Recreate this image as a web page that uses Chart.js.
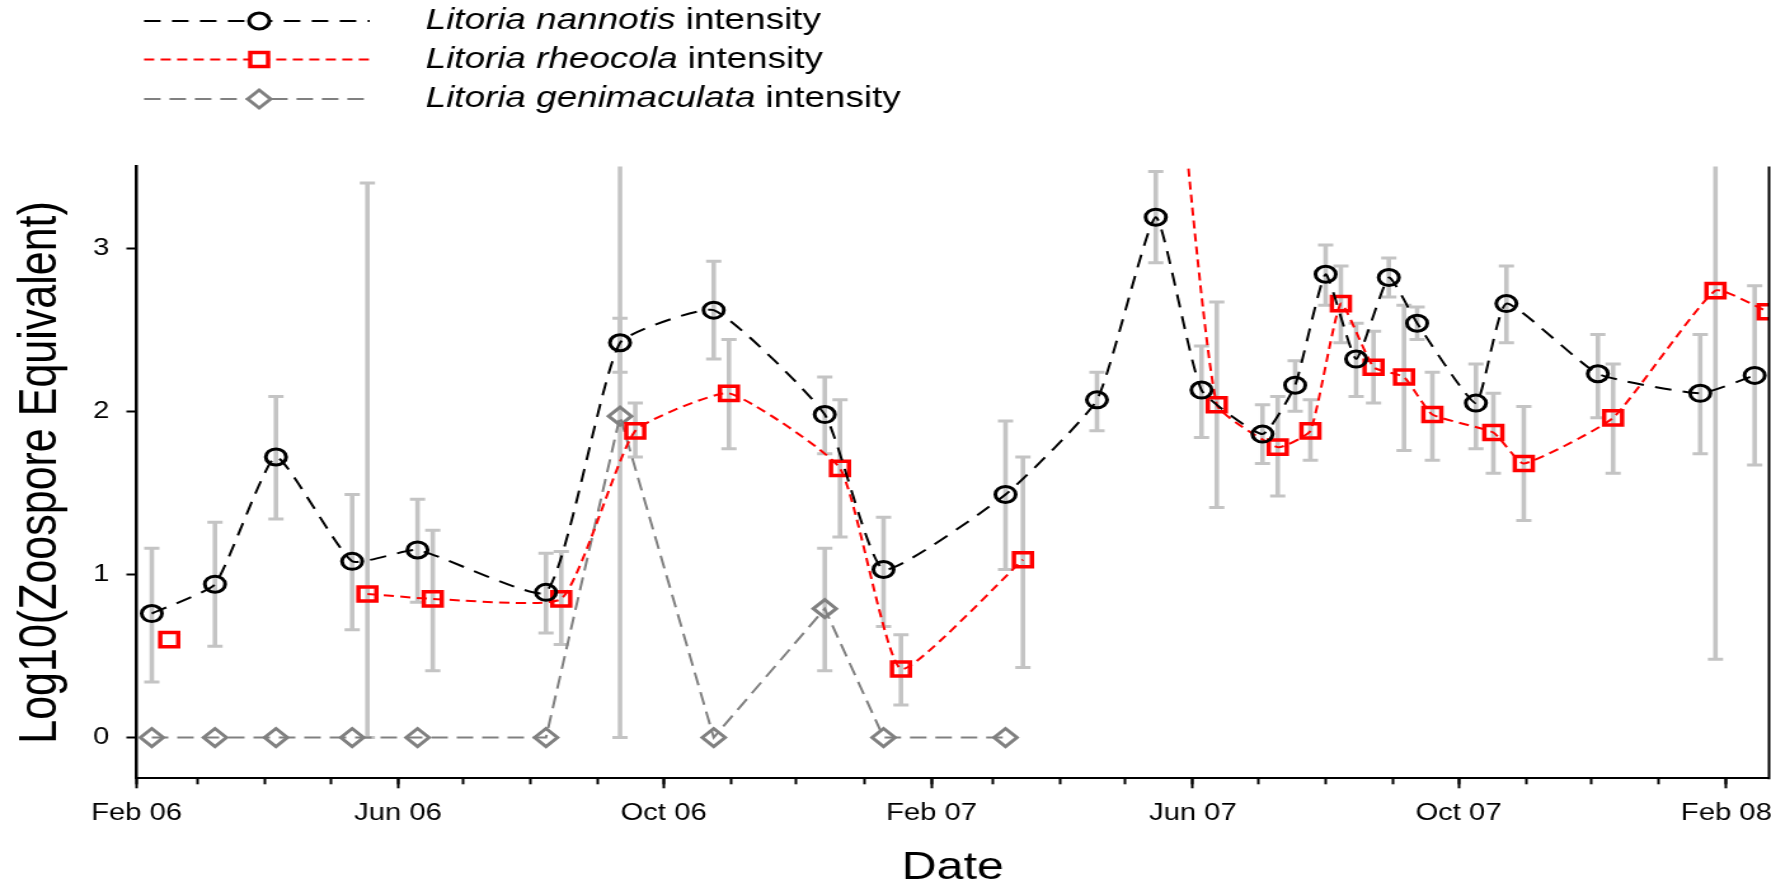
<!DOCTYPE html>
<html>
<head>
<meta charset="utf-8">
<title>Chytrid infection intensity in three Litoria species</title>
<script src="https://cdn.jsdelivr.net/npm/chart.js@4.4.1/dist/chart.umd.min.js"></script>
<style>
  html, body { margin: 0; padding: 0; background: #fff; overflow: hidden; }
  /* The figure is laid out on a narrower canvas and widened horizontally. */
  #wrap { position: absolute; left: 0; top: 0; width: 1395px; height: 888px;
          transform: scaleX(1.2695); transform-origin: 0 0; }
  canvas { display: block; }
</style>
</head>
<body>
<div id="wrap"><canvas id="chart" width="1395" height="888" style="width:1395px;height:888px"></canvas></div>
<script>
// ---- Sampling dates and log10 zoospore equivalents (mean, lower and upper error limits) ----
const nannotisDates = ['2006-02-08','2006-03-09','2006-04-06','2006-05-11','2006-06-10','2006-08-08',
  '2006-09-11','2006-10-24','2006-12-14','2007-01-10','2007-03-07','2007-04-18','2007-05-15',
  '2007-06-05','2007-07-03','2007-07-18','2007-08-01','2007-08-15','2007-08-30','2007-09-12',
  '2007-10-09','2007-10-23','2007-12-04','2008-01-20','2008-02-14'];
const nannotisValues = [0.76, 0.94, 1.72, 1.08, 1.15, 0.89, 2.42, 2.62, 1.98, 1.03, 1.49, 2.07, 3.19,
  2.13, 1.86, 2.16, 2.84, 2.32, 2.82, 2.54, 2.05, 2.66, 2.23, 2.11, 2.22];
const nannotisLow = [0.34, 0.56, 1.34, 0.66, 0.83, 0.64, 2.24, 2.32, 1.74, 0.68, 1.03, 1.88, 2.91,
  1.84, 1.68, 2.00, 2.65, 2.09, 2.70, 2.44, 1.77, 2.42, 1.96, 1.74, 1.67];
const nannotisHigh = [1.16, 1.32, 2.09, 1.49, 1.46, 1.13, 2.57, 2.92, 2.21, 1.35, 1.94, 2.24, 3.47,
  2.40, 2.04, 2.31, 3.02, 2.54, 2.94, 2.64, 2.29, 2.89, 2.47, 2.47, 2.77];

// null values mark surveys without a result, which break the connecting line
const rheocolaDates = ['2006-02-16','2006-03-16','2006-05-18','2006-06-17','2006-08-15','2006-09-18',
  '2006-10-31','2006-12-21','2007-01-18','2007-03-15','2007-04-25','2007-05-22','2007-06-12',
  '2007-07-10','2007-07-25','2007-08-08','2007-08-23','2007-09-06','2007-09-19','2007-10-17',
  '2007-10-31','2007-12-11','2008-01-27','2008-02-20'];
const rheocolaValues = [0.60, null, 0.88, 0.85, 0.85, 1.88, 2.11, 1.65, 0.42, 1.09, null, 4.60, 2.04,
  1.78, 1.88, 2.66, 2.27, 2.21, 1.98, 1.87, 1.68, 1.96, 2.74, 2.61];
const rheocolaLow = [null, null, 0.00, 0.41, 0.57, 1.72, 1.77, 1.23, 0.20, 0.43, null, null, 1.41,
  1.48, 1.70, 2.42, 2.05, 1.76, 1.70, 1.62, 1.33, 1.62, 0.48, null];
const rheocolaHigh = [null, null, 3.40, 1.27, 1.14, 2.05, 2.44, 2.07, 0.63, 1.72, null, null, 2.67,
  2.09, 2.07, 2.89, 2.49, 2.65, 2.24, 2.11, 2.03, 2.29, 4.99, null];

const genimaculataDates = ['2006-02-08','2006-03-09','2006-04-06','2006-05-11','2006-06-10','2006-08-08',
  '2006-09-11','2006-10-24','2006-12-14','2007-01-10','2007-03-07'];
const genimaculataValues = [0, 0, 0, 0, 0, 0, 1.97, 0, 0.79, 0, 0];
const genimaculataLow = [null, null, null, null, null, null, 0.00, null, 0.41, null, null];
const genimaculataHigh = [null, null, null, null, null, null, 3.93, null, 1.16, null, null];

// ---- Axes ----
const axisStart = '2006-02-01';
const axisEnd = '2008-02-21';
const majorTickDates = ['2006-02-01','2006-06-01','2006-10-01','2007-02-01','2007-06-01','2007-10-01','2008-02-01'];
const majorTickLabels = ['Feb 06','Jun 06','Oct 06','Feb 07','Jun 07','Oct 07','Feb 08'];
const yTicks = [0, 1, 2, 3];
const yMin = -0.25, yMax = 3.5;

const legendSpecies = ['Litoria nannotis', 'Litoria rheocola', 'Litoria genimaculata'];
const legendSuffix = ' intensity';

// ---- Helpers ----
const DAY_MS = 86400000;
const ORIGIN = Date.UTC(2006, 1, 1);
function toDay(s) {
  const [y, m, d] = s.split('-').map(Number);
  return (Date.UTC(y, m - 1, d) - ORIGIN) / DAY_MS;
}
function monthStarts(from, to) {
  const out = [];
  const a = new Date(toDay(from) * DAY_MS + ORIGIN);
  let y = a.getUTCFullYear(), m = a.getUTCMonth();
  const end = toDay(to);
  while (true) {
    const d = (Date.UTC(y, m, 1) - ORIGIN) / DAY_MS;
    if (d > end) break;
    out.push(d);
    m++; if (m > 11) { m = 0; y++; }
  }
  return out;
}
function series(dates, values, low, high) {
  return dates.map((d, i) => ({ x: toDay(d), y: values[i], lo: low[i], hi: high[i] }));
}

const FONT = '"Liberation Sans", Arial, Helvetica, sans-serif';
const majorDays = majorTickDates.map(toDay);
const minorDays = monthStarts(axisStart, axisEnd);

// Plot frame in layout pixels (before the horizontal widening)
const PLOT_LEFT = 107.5, PLOT_RIGHT = 1392.4, PLOT_TOP = 166.6, PLOT_BOTTOM = 778.3, CANVAS_H = 888;

// Grey vertical error bars with caps, drawn underneath the series
const errorBars = {
  id: 'errorBars',
  beforeDatasetsDraw(chart) {
    const { ctx, chartArea, scales } = chart;
    const xs = scales.x, ys = scales.y;
    ctx.save();
    ctx.beginPath();
    ctx.rect(chartArea.left, chartArea.top, chartArea.right - chartArea.left, chartArea.bottom - chartArea.top);
    ctx.clip();
    ctx.strokeStyle = '#c4c4c4';
    ctx.lineCap = 'butt';
    chart.data.datasets.forEach(ds => {
      ds.data.forEach(p => {
        if (p.lo == null || p.hi == null) return;
        const px = xs.getPixelForValue(p.x);
        const yl = ys.getPixelForValue(p.lo);
        const yh = ys.getPixelForValue(p.hi);
        ctx.lineWidth = 3.6;
        ctx.beginPath(); ctx.moveTo(px, yl); ctx.lineTo(px, yh); ctx.stroke();
        ctx.lineWidth = 3;
        ctx.beginPath();
        ctx.moveTo(px - 6, yl); ctx.lineTo(px + 6, yl);
        ctx.moveTo(px - 6, yh); ctx.lineTo(px + 6, yh);
        ctx.stroke();
      });
    });
    ctx.restore();
  }
};

// Right-hand frame line at the edge of the plotting area
const rightFrame = {
  id: 'rightFrame',
  afterDatasetsDraw(chart) {
    const { ctx, chartArea } = chart;
    ctx.save();
    ctx.strokeStyle = '#000';
    ctx.lineWidth = 2;
    ctx.beginPath();
    ctx.moveTo(chartArea.right, chartArea.top);
    ctx.lineTo(chartArea.right, chartArea.bottom + 1);
    ctx.stroke();
    ctx.restore();
  }
};

// Legend: dashed line sample with its marker, then the italic species name
const legendStyles = [
  { color: '#000000', dash: [13, 9], shape: 'circle', r: 8, bw: 3 },
  { color: '#ff0000', dash: [8, 5], shape: 'rect', r: 7, bw: 3.5 },
  { color: '#808080', dash: [13, 7], shape: 'diamond', r: 9, bw: 3 }
];
const legendBox = {
  id: 'legendBox',
  afterDraw(chart) {
    const ctx = chart.ctx;
    const rowsY = [21, 59.5, 99];
    ctx.save();
    legendStyles.forEach((st, i) => {
      const y = rowsY[i];
      ctx.strokeStyle = st.color;
      ctx.lineWidth = 2;
      ctx.setLineDash(st.dash);
      ctx.beginPath(); ctx.moveTo(113.4, y); ctx.lineTo(291, y); ctx.stroke();
      ctx.setLineDash([]);
      ctx.lineWidth = st.bw;
      const cx = 204;
      ctx.beginPath();
      if (st.shape === 'circle') {
        ctx.arc(cx, y, st.r, 0, Math.PI * 2);
      } else if (st.shape === 'rect') {
        ctx.rect(cx - st.r, y - st.r, st.r * 2, st.r * 2);
      } else {
        ctx.moveTo(cx - st.r, y); ctx.lineTo(cx, y - st.r);
        ctx.lineTo(cx + st.r, y); ctx.lineTo(cx, y + st.r); ctx.closePath();
      }
      ctx.fillStyle = '#ffffff';
      ctx.fill();
      ctx.stroke();
      ctx.fillStyle = '#000000';
      ctx.textBaseline = 'middle';
      ctx.textAlign = 'left';
      ctx.font = 'italic 29px ' + FONT;
      ctx.fillText(legendSpecies[i], 335, y);
      const w = ctx.measureText(legendSpecies[i]).width;
      ctx.font = '29px ' + FONT;
      ctx.fillText(legendSuffix, 335 + w, y);
    });
    ctx.restore();
  }
};

const xMin = toDay(axisStart), xMax = toDay(axisEnd) - 0.4;

function makeConfig() {
  return {
    type: 'line',
    data: {
      datasets: [
        {
          label: 'Litoria nannotis intensity',
          data: series(nannotisDates, nannotisValues, nannotisLow, nannotisHigh),
          borderColor: '#000000', borderWidth: 2, borderDash: [13, 9],
          pointStyle: 'circle', pointRadius: 8, pointBorderWidth: 3,
          pointBorderColor: '#000000', pointBackgroundColor: 'rgba(255,255,255,0)',
          tension: 0.15, fill: false
        },
        {
          label: 'Litoria rheocola intensity',
          data: series(rheocolaDates, rheocolaValues, rheocolaLow, rheocolaHigh),
          borderColor: '#ff0000', borderWidth: 2, borderDash: [8, 5],
          pointStyle: 'rect', pointRadius: 10, pointBorderWidth: 3.5,
          pointBorderColor: '#ff0000', pointBackgroundColor: 'rgba(255,255,255,0)',
          tension: 0.15, fill: false, spanGaps: false
        },
        {
          label: 'Litoria genimaculata intensity',
          data: series(genimaculataDates, genimaculataValues, genimaculataLow, genimaculataHigh),
          borderColor: '#808080', borderWidth: 2, borderDash: [13, 7],
          pointStyle: 'rectRot', pointRadius: 9, pointBorderWidth: 3,
          pointBorderColor: '#808080', pointBackgroundColor: 'rgba(255,255,255,0)',
          tension: 0, fill: false
        }
      ]
    },
    options: {
      responsive: false,
      animation: false,
      devicePixelRatio: 1,
      layout: { padding: { top: PLOT_TOP, right: 0, left: 0, bottom: 0 } },
      plugins: { legend: { display: false }, tooltip: { enabled: false } },
      scales: {
        x: {
          type: 'linear', position: 'bottom', weight: 1,
          min: xMin, max: xMax,
          afterFit: s => { s.height = CANVAS_H - PLOT_BOTTOM; s.paddingLeft = 0; s.paddingRight = 0; },
          afterBuildTicks: s => { s.ticks = majorDays.map(v => ({ value: v })); },
          ticks: {
            autoSkip: false, maxRotation: 0, padding: 0,
            color: '#000', font: { family: FONT, size: 23, lineHeight: 2.19 },
            callback: (v) => { const i = majorDays.indexOf(v); return i >= 0 ? majorTickLabels[i] : ''; }
          },
          grid: { drawOnChartArea: false, drawTicks: true, tickLength: 10, tickWidth: 2, tickColor: '#000' },
          border: { display: true, color: '#000', width: 2 },
          title: { display: true, text: 'Date', color: '#000',
                   font: { family: FONT, size: 38, lineHeight: 1 }, padding: { top: 0, bottom: 0 } }
        },
        xMinor: {
          type: 'linear', position: 'bottom', weight: 0,
          min: xMin, max: xMax,
          afterFit: s => { s.height = 0; s.paddingLeft = 0; s.paddingRight = 0; },
          afterBuildTicks: s => { s.ticks = minorDays.map(v => ({ value: v })); },
          ticks: { display: false },
          grid: { drawOnChartArea: false, drawTicks: true, tickLength: 6, tickWidth: 2, tickColor: '#000' },
          border: { display: false }
        },
        y: {
          type: 'linear', position: 'left',
          min: yMin, max: yMax,
          afterFit: s => { s.width = PLOT_LEFT; s.paddingTop = 0; s.paddingBottom = 0; },
          afterBuildTicks: s => { s.ticks = yTicks.map(v => ({ value: v })); },
          ticks: { color: '#000', padding: 13.5, font: { family: FONT, size: 23 } },
          grid: { drawOnChartArea: false, drawTicks: true, tickLength: 8, tickWidth: 2, tickColor: '#000' },
          border: { display: true, color: '#000', width: 2.5 },
          title: { display: true, text: 'Log10(Zoospore Equivalent)', color: '#000',
                   font: { family: FONT, size: 43, lineHeight: 1 }, padding: { top: 11, bottom: 0 } }
        }
      }
    },
    plugins: [errorBars, rightFrame, legendBox]
  };
}

const wrap = document.getElementById('wrap');
const canvas = document.getElementById('chart');
function build(width) {
  wrap.style.width = width + 'px';
  canvas.setAttribute('width', width);
  canvas.setAttribute('height', CANVAS_H);
  canvas.style.width = width + 'px';
  canvas.style.height = CANVAS_H + 'px';
  return new Chart(canvas, makeConfig());
}

// Lay out once, then widen the canvas so the plot's right edge lands on PLOT_RIGHT
let canvasWidth = 1395;
let chart = build(canvasWidth);
for (let pass = 0; pass < 3; pass++) {
  const diff = PLOT_RIGHT - chart.chartArea.right;
  if (Math.abs(diff) < 0.3) break;
  chart.destroy();
  canvasWidth = canvasWidth + diff;
  chart = build(Math.round(canvasWidth * 10) / 10);
}
</script>
</body>
</html>
